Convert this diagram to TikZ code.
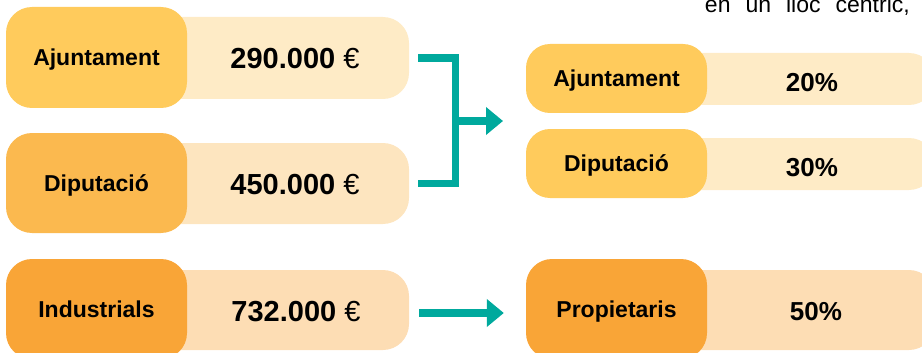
\documentclass[tikz,border=0pt]{standalone}
\usepackage{fontspec}
\setmainfont{Liberation Sans}
\usepackage{tikz}
\usetikzlibrary{arrows.meta, positioning}

\definecolor{ajdark}{HTML}{FFCB5C}
\definecolor{ajlight}{HTML}{FEEBC6}
\definecolor{dipdark}{HTML}{FBB94F}
\definecolor{diplight}{HTML}{FDE5BF}
\definecolor{inddark}{HTML}{F9A537}
\definecolor{indlight}{HTML}{FDDDB4}
\definecolor{flowteal}{HTML}{00A99D}

\tikzset{
  whobox/.style={rectangle, rounded corners=26pt, minimum width=181pt, inner sep=0pt,
    font=\fontsize{23}{27}\selectfont\bfseries, text height=16.5pt, text depth=0pt},
  barbox/.style={rectangle, rounded corners=26pt, inner sep=0pt},
  amount/.style={inner sep=0pt, font=\fontsize{29}{33}\selectfont\bfseries,
    text height=20.8pt, text depth=0pt},
  share/.style={inner sep=0pt, font=\fontsize{26}{30}\selectfont\bfseries,
    text height=18.6pt, text depth=0pt},
  flow/.style={draw=flowteal, line width=7.5pt},
  flowtip/.style={flow, -{Triangle[length=17pt, width=27pt]}},
}

\begin{document}
\begin{tikzpicture}[x=1pt, y=-1pt]
  \useasboundingbox (0,0) rectangle (922,353);

  % left column: bars first, boxes on top
  \node[barbox, fill=ajlight,  minimum width=289pt, minimum height=82pt] (bar_aj)  at (264.5,58)    {};
  \node[barbox, fill=diplight, minimum width=289pt, minimum height=81pt] (bar_dip) at (264.5,183.5) {};
  \node[barbox, fill=indlight, minimum width=289pt, minimum height=80pt] (bar_ind) at (264.5,310)   {};
  \node[whobox, fill=ajdark,  minimum height=101pt] (src_aj)  at (96.5,57.5) {Ajuntament};
  \node[whobox, fill=dipdark, minimum height=100pt] (src_dip) at (96.5,183)  {Diputació};
  \node[whobox, fill=inddark, minimum height=100pt] (src_ind) at (96.5,309)  {Industrials};
  \node[amount] (eur_aj)  at (295,58)  {290.000 {\mdseries €}};
  \node[amount] (eur_dip) at (295,184) {450.000 {\mdseries €}};
  \node[amount] (eur_ind) at (296,311) {732.000 {\mdseries €}};

  % right column
  \node[barbox, fill=ajlight,  minimum width=285pt, minimum height=52pt] (pbar_aj)   at (792.5,79)  {};
  \node[barbox, fill=ajlight,  minimum width=285pt, minimum height=52pt] (pbar_dip)  at (792.5,164) {};
  \node[barbox, fill=indlight, minimum width=285pt, minimum height=80pt] (pbar_prop) at (792.5,310) {};
  \node[whobox, fill=ajdark,  minimum height=69pt,  rounded corners=24pt] (dst_aj)   at (616.5,78.5)  {Ajuntament};
  \node[whobox, fill=ajdark,  minimum height=69pt,  rounded corners=24pt] (dst_dip)  at (616.5,163.5) {Diputació};
  \node[whobox, fill=inddark, minimum height=100pt] (dst_prop) at (616.5,309) {Propietaris};
  \node[share] (pct_aj)   at (812,82)  {20\%};
  \node[share] (pct_dip)  at (812,167) {30\%};
  \node[share] (pct_prop) at (816,311) {50\%};

  % text cut by the top edge
  \node[anchor=base east, inner sep=0pt, font=\fontsize{23}{27}\selectfont] (note) at (910,13)
    {en\hspace{15pt}un\hspace{15pt}lloc\hspace{15pt}cèntric,};

  % connectors
  \coordinate (fork)  at (455.5,121);
  \coordinate (merge) at (503,121);
  \draw[flow] ([xshift=9pt]bar_aj.east) -| ([xshift=46.5pt]bar_dip.east) -- ([xshift=9pt]bar_dip.east);
  \draw[flowtip] (fork) -- (merge);
  \draw[flowtip] ([shift={(10,3)}]bar_ind.east) -- ([shift={(-22,4)}]dst_prop.west);
\end{tikzpicture}
\end{document}
